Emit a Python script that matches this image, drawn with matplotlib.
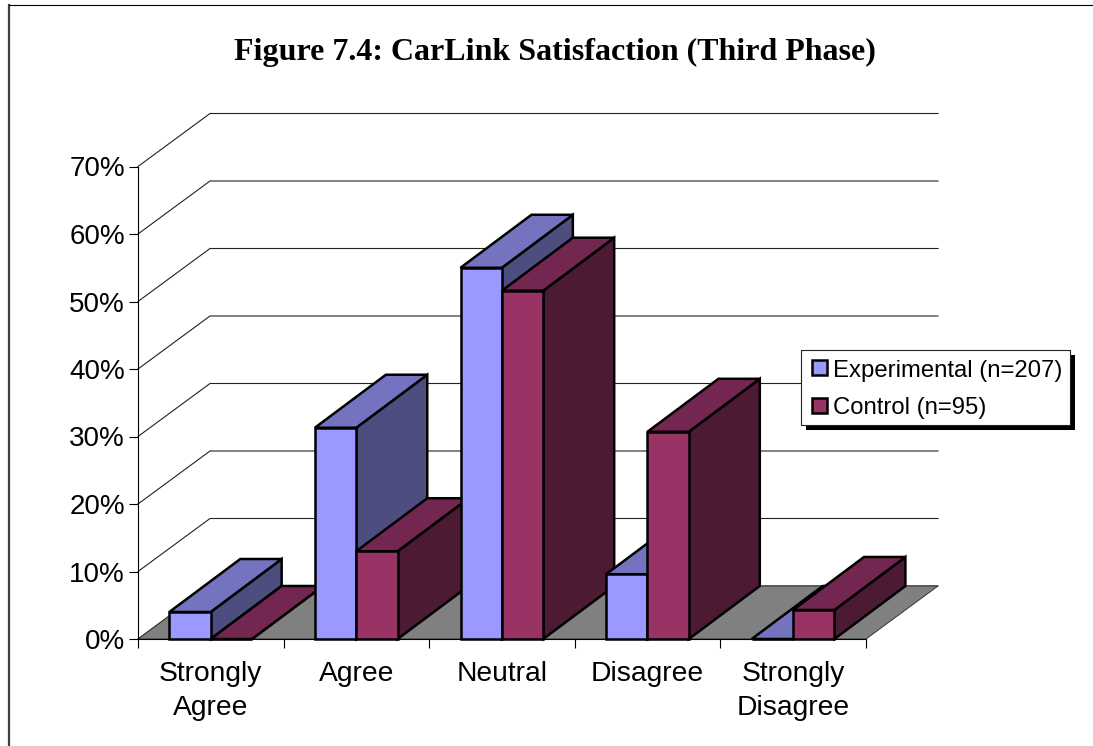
import matplotlib
matplotlib.use("Agg")
import matplotlib.pyplot as plt
from matplotlib.lines import Line2D
from matplotlib.patches import Rectangle

# Values (percent)
categories = ["Strongly\nAgree", "Agree", "Neutral", "Disagree", "Strongly\nDisagree"]
experimental = [4, 31.3, 55, 9.6, 0]
control = [0, 13, 51.6, 30.7, 4.3]
y_ticks = [0, 10, 20, 30, 40, 50, 60, 70]
series_labels = ["Experimental (n=207)", "Control (n=95)"]

# Front, top and side shades of each series
exp_colors = ("#9999FF", "#7373BF", "#4D4D80")
ctl_colors = ("#993366", "#732650", "#4D1A33")

W, H = 1093, 746
DEPTH_X = 72 / 145.6   # depth offset in category units
DEPTH_Y = 53 / 6.75    # depth offset in percent
BAR_DEPTH_X = 71 / 145.6
GAP = 0.215
BAR_W = 0.284
EDGE = 1.8

plt.rcParams["font.family"] = ["Liberation Sans", "DejaVu Sans"]

fig = plt.figure(figsize=(W / 100, H / 100), dpi=100)
ax = fig.add_axes([138 / W, (H - 639) / H, 728 / W, 472.5 / H])
ax.set_xlim(0, 5)
ax.set_ylim(0, 70)
ax.patch.set_visible(False)


def draw_bar(x0, value, colors):
    x1 = x0 + BAR_W
    dx = BAR_DEPTH_X
    front = [(x0, 0), (x1, 0), (x1, value), (x0, value)]
    top = [(x0, value), (x1, value), (x1 + dx, value + DEPTH_Y), (x0 + dx, value + DEPTH_Y)]
    side = [(x1, 0), (x1 + dx, DEPTH_Y), (x1 + dx, value + DEPTH_Y), (x1, value)]
    for pts, col in [(side, colors[2]), (top, colors[1]), (front, colors[0])]:
        xs, ys = zip(*pts)
        ax.fill(xs, ys, facecolor=col, edgecolor="black", linewidth=EDGE, clip_on=False, zorder=3)


def pixel_rect(x, y, w, h, **kw):
    # rectangle given in picture pixels, y from the top
    fig.add_artist(Rectangle((x / W, 1 - (y + h) / H), w / W, h / H, transform=fig.transFigure, **kw))


# Back wall lines
for v in y_ticks:
    ax.plot([0, DEPTH_X, 5 + DEPTH_X], [v, v + DEPTH_Y, v + DEPTH_Y], color="#222222",
            linewidth=0.8, clip_on=False, zorder=0.5)

# Floor
ax.fill([0, 5, 5 + DEPTH_X, DEPTH_X], [0, 0, DEPTH_Y, DEPTH_Y], facecolor="#808080",
        edgecolor="#333333", linewidth=0.7, clip_on=False, zorder=0.6)

# Bars, left to right so nearer ones overlap
for i in range(len(categories)):
    draw_bar(i + GAP, experimental[i], exp_colors)
    draw_bar(i + GAP + BAR_W, control[i], ctl_colors)

# Axes
for s in ["top", "right"]:
    ax.spines[s].set_visible(False)
for s in ["left", "bottom"]:
    ax.spines[s].set_linewidth(0.8)
ax.set_yticks(y_ticks, [f"{v}%" for v in y_ticks], fontsize=20)
ax.set_xticks(range(6), [""] * 6)
ax.set_xticks([i + 0.5 for i in range(5)], categories, minor=True, fontsize=20.3)
ax.tick_params(axis="both", which="major", length=6.5, width=0.8, pad=3)
ax.tick_params(axis="x", which="minor", length=0, pad=15.5)
for lab in ax.get_xticklabels(minor=True):
    lab.set_linespacing(1.42)

# Legend box with hard shadow
pixel_rect(806, 354.5, 269, 75, facecolor="black", edgecolor="none")
pixel_rect(801, 349.5, 268.5, 75, facecolor="white", edgecolor="#222222", linewidth=0.8)
for name, col, y in zip(series_labels, [exp_colors[0], ctl_colors[0]], [368, 405]):
    pixel_rect(811.5, y - 7.5, 15, 15, facecolor=col, edgecolor="black", linewidth=EDGE)
    fig.text(833 / W, 1 - (y + 0.5) / H, name, ha="left", va="center_baseline", fontsize=17.2)

# Title
fig.text(554.5 / W, 1 - 52 / H, "Figure 7.4: CarLink Satisfaction (Third Phase)", ha="center", va="center",
         fontsize=23, fontweight="bold", family="Liberation Serif")

# Chart frame, cut off at the right and bottom of the picture
fig.add_artist(Line2D([8.5 / W, 8.5 / W], [0, 1 - 4.5 / H], color="#404040", linewidth=1.6))
fig.add_artist(Line2D([8.5 / W, 1], [1 - 4.5 / H, 1 - 4.5 / H], color="black", linewidth=0.8))

fig.savefig("out.png", dpi=100)
